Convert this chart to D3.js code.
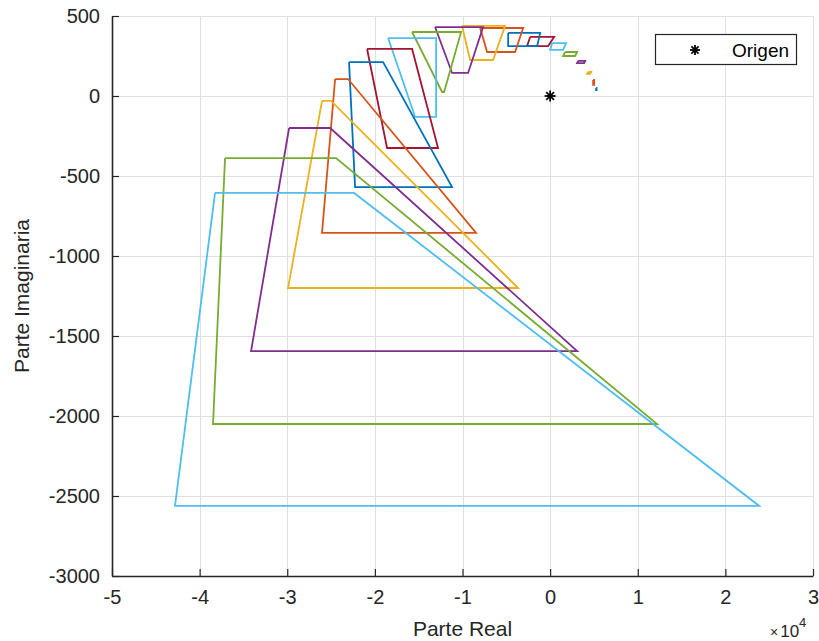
<!DOCTYPE html>
<html>
<head>
<meta charset="utf-8">
<script src="https://cdn.jsdelivr.net/npm/d3@7/dist/d3.min.js"></script>
<style>
  html, body { margin: 0; padding: 0; background: #fff; }
  svg { display: block; font-family: "Liberation Sans", Arial, sans-serif; }
</style>
</head>
<body>
<svg id="chart" width="819" height="641"></svg>
<script>
// Trapezoid outlines in the complex plane, smallest (1) to largest (20).
// Each outline runs top-left -> top-right -> bottom-right -> bottom-left -> back.
const realTopLeft     = [5250, 4910, 4340, 3200, 1710, 230, -2280, -4790, -7990, -10050, -13130, -15750, -18490, -20890, -22950, -24540, -26030, -29790, -37100, -38240];
const realTopRight    = [5300, 5020, 4680, 4000, 3080, 1830, 460, -1140, -3080, -5140, -7650, -10160, -13010, -15750, -19060, -23060, -25000, -25110, -24430, -22370];
const realBottomRight = [5300, 5020, 4570, 3880, 2850, 1480, -230, -1480, -4000, -6510, -9360, -12100, -13010, -12790, -11190, -8450, -3650, 3080, 12210, 23860];
const realBottomLeft  = [5250, 4910, 4220, 3080, 1480, 0, -2630, -4790, -7190, -9130, -11190, -12330, -15410, -18610, -22260, -26030, -29910, -34130, -38470, -42810];
const imagTop         = [50, 100, 150, 219, 275, 331, 369, 394, 425, 438, 431, 400, 362, 294, 212, 106, -31, -200, -388, -606];
const imagBottom      = [37, 69, 138, 206, 250, 288, 312, 312, 275, 225, 144, 25, -131, -325, -569, -856, -1200, -1594, -2050, -2562];

// The origin, marked with an asterisk
const origin = [0, 0];

// Axis ticks (x in units of 10^4)
const xTicks = [-5, -4, -3, -2, -1, 0, 1, 2, 3];
const yTicks = [500, 0, -500, -1000, -1500, -2000, -2500, -3000];

// Default line colour order
const colorOrder = ["#0072BD", "#D95319", "#EDB120", "#7E2F8E", "#77AC30", "#4DBEEE", "#A2142F"];

const svg = d3.select("#chart");
const plotLeft = 112, plotRight = 813, plotTop = 16, plotBottom = 576;

const x = d3.scaleLinear().domain([-5e4, 3e4]).range([plotLeft, plotRight]);
const y = d3.scaleLinear().domain([-3000, 500]).range([plotBottom, plotTop]);

// Grid
const grid = svg.append("g").attr("stroke", "#e0e0e0").attr("stroke-width", 1);
grid.selectAll("line.v").data(xTicks).join("line").attr("class", "v")
  .attr("x1", d => Math.round(x(d * 1e4)) + 0.5).attr("x2", d => Math.round(x(d * 1e4)) + 0.5)
  .attr("y1", plotTop).attr("y2", plotBottom);
grid.selectAll("line.h").data(yTicks).join("line").attr("class", "h")
  .attr("y1", d => Math.round(y(d)) + 0.5).attr("y2", d => Math.round(y(d)) + 0.5)
  .attr("x1", plotLeft).attr("x2", plotRight);

// Outlines
const outlines = d3.range(realTopLeft.length).map(i => [
  [realTopLeft[i], imagTop[i]],
  [realTopRight[i], imagTop[i]],
  [realBottomRight[i], imagBottom[i]],
  [realBottomLeft[i], imagBottom[i]],
  [realTopLeft[i], imagTop[i]]
]);
const line = d3.line().x(d => x(d[0])).y(d => y(d[1]));
svg.append("g").selectAll("path").data(outlines).join("path")
  .attr("d", line)
  .attr("fill", "none")
  .attr("stroke", (d, i) => colorOrder[i % colorOrder.length])
  .attr("stroke-width", 1.8)
  .attr("stroke-linejoin", "miter");

// Asterisk marker
function asterisk(g, cx, cy, r) {
  const a = r * Math.SQRT1_2;
  const segs = [[-r, 0, r, 0], [0, -r, 0, r], [-a, -a, a, a], [-a, a, a, -a]];
  g.selectAll(null).data(segs).join("line")
    .attr("x1", s => cx + s[0]).attr("y1", s => cy + s[1])
    .attr("x2", s => cx + s[2]).attr("y2", s => cy + s[3])
    .attr("stroke", "#000").attr("stroke-width", 1.8);
}
asterisk(svg.append("g"), x(origin[0]), y(origin[1]), 5.5);

// Axes
const axisColor = "#262626";
const xAxis = d3.axisBottom(x).tickValues(xTicks.map(d => d * 1e4))
  .tickSizeInner(-7).tickSizeOuter(0).tickPadding(14);
const gx = svg.append("g").attr("transform", `translate(0,${plotBottom})`).call(xAxis);
const yAxis = d3.axisLeft(y).tickValues(yTicks)
  .tickSizeInner(-7).tickSizeOuter(0).tickPadding(12);
const gy = svg.append("g").attr("transform", `translate(${plotLeft},0)`).call(yAxis);
[gx, gy].forEach(g => {
  g.select(".domain").attr("stroke", axisColor).attr("stroke-width", 1.6);
  g.selectAll(".tick line").attr("stroke", axisColor).attr("stroke-width", 1.2);
  g.selectAll(".tick text").attr("fill", "#262626")
    .style("font-size", "20px").style("font-family", "'Liberation Sans', Arial, sans-serif");
});
gx.selectAll(".tick text").text(d => d < 0 ? "-" + Math.abs(d / 1e4) : d / 1e4);
gy.selectAll(".tick text").text(d => d < 0 ? "-" + Math.abs(d) : d);

// Axis labels
svg.append("text").attr("x", (plotLeft + plotRight) / 2).attr("y", 636)
  .attr("text-anchor", "middle").attr("fill", "#262626").style("font-size", "21px")
  .text("Parte Real");
svg.append("text").attr("transform", `translate(29,${(plotTop + plotBottom) / 2}) rotate(-90)`)
  .attr("text-anchor", "middle").attr("fill", "#262626").style("font-size", "21px")
  .text("Parte Imaginaria");

// Exponent
const expo = svg.append("text").attr("x", 770).attr("y", 637).attr("fill", "#262626").style("font-size", "17px");
expo.append("tspan").style("font-size", "14px").text("\u00D7");
expo.append("tspan").attr("dx", 2).text("10");
expo.append("tspan").attr("dy", -10).style("font-size", "13px").text("4");

// Legend
const lg = svg.append("g");
lg.append("rect").attr("x", 655.5).attr("y", 34.5).attr("width", 141).attr("height", 30)
  .attr("fill", "#fff").attr("stroke", "#262626").attr("stroke-width", 1.2);
asterisk(lg, 695, 50, 5);
lg.append("text").attr("x", 732).attr("y", 57).attr("fill", "#000").style("font-size", "19px").text("Origen");
</script>
</body>
</html>
